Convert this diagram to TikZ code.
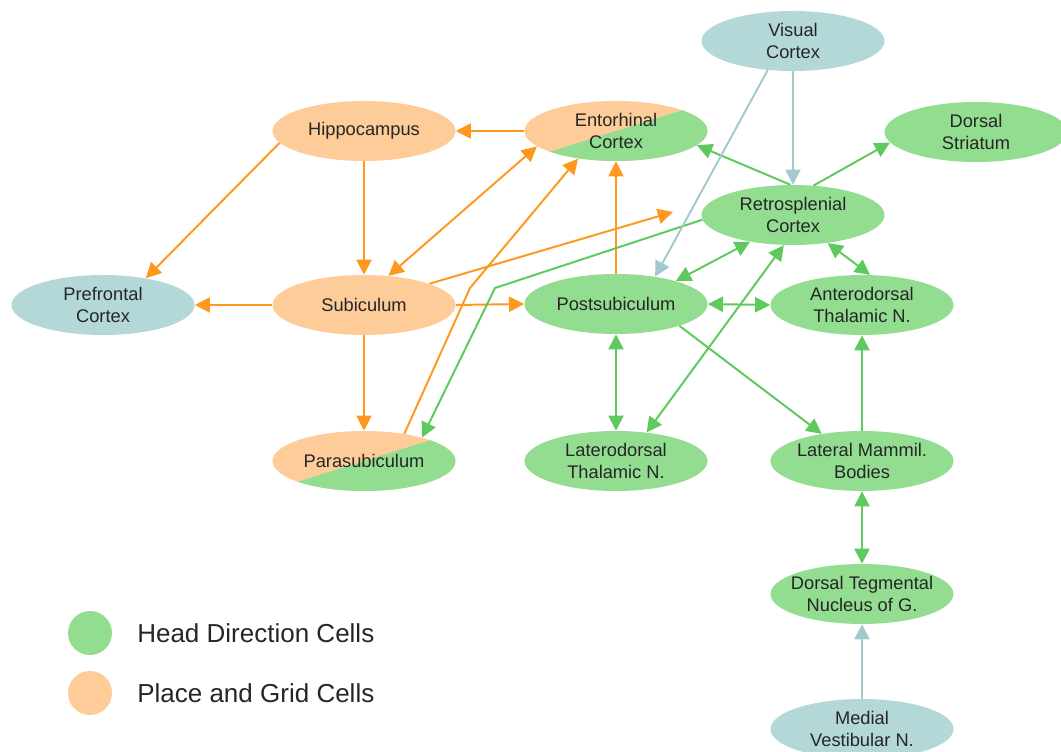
\documentclass[tikz,border=0pt]{standalone}
\usepackage{fontspec}
\setmainfont{Liberation Sans}
\usetikzlibrary{shapes.geometric,arrows.meta}
\definecolor{hdfill}{RGB}{147,221,145}
\definecolor{placefill}{RGB}{253,204,153}
\definecolor{visfill}{RGB}{180,215,215}
\definecolor{hdline}{RGB}{94,201,92}
\definecolor{placeline}{RGB}{255,152,30}
\definecolor{visline}{RGB}{163,201,207}
\tikzset{
  region/.style={ellipse, minimum width=4.575cm, minimum height=1.5cm,
    inner xsep=-0.35cm, inner ysep=-0.1cm, align=center, text=black!85,
    font=\fontsize{13pt}{16.3pt}\selectfont},
  hdcell/.style={region, fill=hdfill},
  placecell/.style={region, fill=placefill},
  sensory/.style={region, fill=visfill},
  mixed/.style={region},
  hdlink/.style={draw=hdline, line width=1.4pt},
  placelink/.style={draw=placeline, line width=1.4pt},
  senslink/.style={draw=visline, line width=1.4pt},
  legdot/.style={circle, minimum size=1.1cm, inner sep=0},
  legtext/.style={anchor=west, inner sep=0, text=black!85,
    font=\fontsize{18.5pt}{22pt}\selectfont},
  >={Triangle[length=0.38cm,width=0.38cm]}
}
% half place / half head direction background
\newcommand{\halfhalf}[1]{%
  \begin{scope}[shift={#1}]
    \clip (0,0) ellipse (2.2875 and 0.75);
    \fill[placefill] (-2.4,-0.8) rectangle (2.4,0.8);
    \fill[hdfill] (-2.5,-0.784) -- (2.5,0.784) -- (2.5,-1) -- (-2.5,-1) -- cycle;
  \end{scope}}

\begin{document}
\begin{tikzpicture}
\useasboundingbox (0,0) rectangle (26.525,-18.8);
\halfhalf{(15.4,-3.275)}
\halfhalf{(9.1,-11.525)}
%
\node[sensory] (vis) at (19.825,-1.025) {Visual\\Cortex};
\node[placecell] (hip) at (9.1,-3.275) {Hippocampus};
\node[mixed] (ent) at (15.4,-3.275) {Entorhinal\\Cortex};
\node[hdcell] (dstr) at (24.4,-3.3) {Dorsal\\Striatum};
\node[hdcell] (rsp) at (19.825,-5.375) {Retrosplenial\\Cortex};
\node[sensory] (pfc) at (2.575,-7.625) {Prefrontal\\Cortex};
\node[placecell] (sub) at (9.1,-7.625) {Subiculum};
\node[hdcell] (post) at (15.4,-7.6) {Postsubiculum};
\node[hdcell] (ant) at (21.55,-7.625) {Anterodorsal\\Thalamic N.};
\node[mixed] (para) at (9.1,-11.525) {Parasubiculum};
\node[hdcell] (lat) at (15.4,-11.525) {Laterodorsal\\Thalamic N.};
\node[hdcell] (lmb) at (21.55,-11.525) {Lateral Mammil.\\Bodies};
\node[hdcell] (dtn) at (21.55,-14.85) {Dorsal Tegmental\\Nucleus of G.};
\node[sensory] (mvn) at (21.55,-18.225) {Medial\\Vestibular N.};
%
\coordinate (subtip) at (16.825,-5.3);
\coordinate (pbend) at (11.75,-7.2);
\coordinate (rbend) at (12.375,-7.2);
%
\draw[placelink,->] (ent.west) -- (hip.east);
\draw[placelink,->] (hip.188) -- (pfc.32);
\draw[placelink,->] (hip.south) -- (sub.north);
\draw[placelink,<->] (sub.50) -- (ent.191);
\draw[placelink,->] (sub.west) -- (pfc.east);
\draw[placelink,->] (sub.east) -- (post.west);
\draw[placelink,->] (sub.18) -- (subtip);
\draw[placelink,->] (sub.south) -- (para.north);
\draw[placelink,->] (para.34) -- (pbend) -- (ent.216);
\draw[placelink,->] (post.north) -- (ent.south);
%
\draw[hdlink,->] (rsp.95) -- (ent.350);
\draw[hdlink,->] (rsp.55) -- (dstr.187);
\draw[hdlink,->] (rsp.183) -- (rbend) -- (para.22);
\draw[hdlink,<->] (rsp.212) -- (post.21);
\draw[hdlink,<->] (rsp.321) -- (ant.75);
\draw[hdlink,<->] (post.east) -- (ant.west);
\draw[hdlink,<->] (lat.43) -- (rsp.253);
\draw[hdlink,<->] (post.south) -- (lat.north);
\draw[hdlink,->] (post.341) -- (lmb.146);
\draw[hdlink,->] (lmb.north) -- (ant.south);
\draw[hdlink,<->] (lmb.south) -- (dtn.north);
%
\draw[senslink,->] (vis.south) -- (rsp.north);
\draw[senslink,->] (vis.229) -- (post.35);
\draw[senslink,->] (mvn.north) -- (dtn.south);
%
\node[legdot, fill=hdfill] (hdkey) at (2.25,-15.825) {};
\node[legtext] (hdtext) at (3.425,-15.825) {Head Direction Cells};
\node[legdot, fill=placefill] (placekey) at (2.25,-17.325) {};
\node[legtext] (placetext) at (3.425,-17.325) {Place and Grid Cells};
\end{tikzpicture}
\end{document}
